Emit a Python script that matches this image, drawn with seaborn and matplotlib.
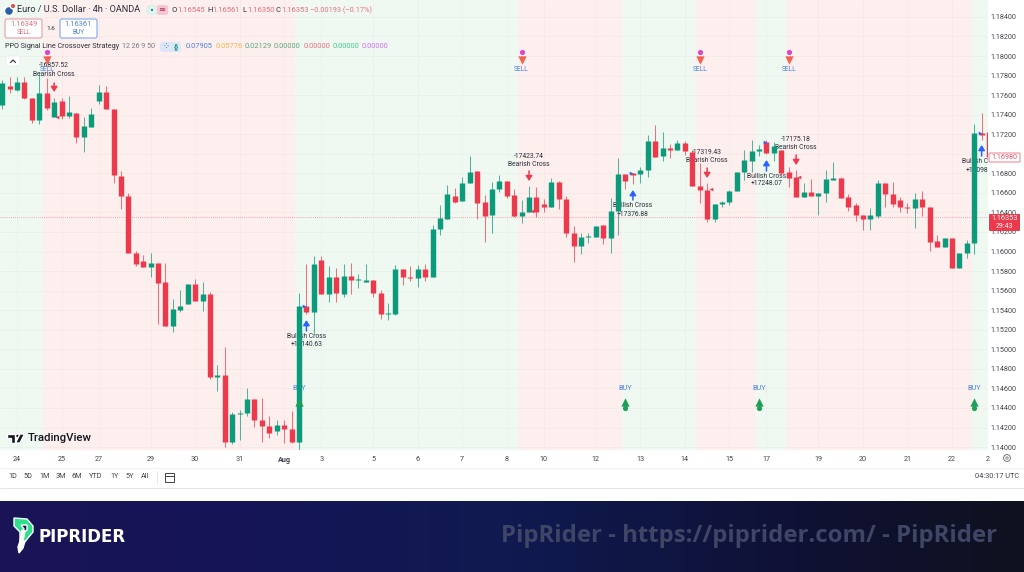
"""EUR/USD 4h candles with the PPO crossover strategy, TradingView style."""

import numpy as np
import pandas as pd
import matplotlib.pyplot as plt
import matplotlib.patches as mpatches
from matplotlib.colors import LinearSegmentedColormap
import seaborn as sns

# candles, oldest first
opens = [1.17499, 1.17693, 1.17652, 1.17734, 1.17570, 1.17345, 1.17622, 1.17376, 1.17540, 1.17386,
         1.17417, 1.17171, 1.17274, 1.17540, 1.17632, 1.17458, 1.16772, 1.16568, 1.15985, 1.15903,
         1.15842, 1.15883, 1.15688, 1.15238, 1.15402, 1.15463, 1.15668, 1.15494, 1.15566, 1.14716,
         1.14737, 1.14051, 1.14338, 1.14348, 1.14491, 1.14276, 1.14215, 1.14164, 1.14225, 1.14184,
         1.14051, 1.15443, 1.15381, 1.15913, 1.15566, 1.15739, 1.15566, 1.15749, 1.15709, 1.15688,
         1.15709, 1.15576, 1.15361, 1.15361, 1.15821, 1.15739, 1.15729, 1.15821, 1.15739, 1.16230,
         1.16333, 1.16568, 1.16517, 1.16701, 1.16824, 1.16507, 1.16373, 1.16640, 1.16721, 1.16578,
         1.16363, 1.16404, 1.16558, 1.16486, 1.16455, 1.16711, 1.16537, 1.16189, 1.16056, 1.16148,
         1.16148, 1.16271, 1.16138, 1.16414, 1.16793, 1.16803, 1.16793, 1.16834, 1.17131, 1.16977,
         1.17059, 1.17039, 1.17110, 1.17018, 1.16670, 1.16629, 1.16333, 1.16486, 1.16507, 1.16619,
         1.16813, 1.16926, 1.17028, 1.17120, 1.17008, 1.17039, 1.16813, 1.16762, 1.16558, 1.16609,
         1.16568, 1.16599, 1.16732, 1.16752, 1.16558, 1.16476, 1.16373, 1.16333, 1.16363, 1.16701,
         1.16588, 1.16527, 1.16455, 1.16445, 1.16537, 1.16455, 1.16108, 1.16046, 1.16138, 1.15831,
         1.15985, 1.16087, 1.17212, 1.17223]
highs = [1.17755, 1.17785, 1.17785, 1.17785, 1.17570, 1.17836, 1.17775, 1.17570, 1.17570, 1.17591,
         1.17417, 1.17376, 1.17468, 1.17703, 1.17693, 1.17458, 1.16824, 1.16599, 1.16005, 1.15964,
         1.15985, 1.15883, 1.15883, 1.15514, 1.15606, 1.15668, 1.15719, 1.15688, 1.15586, 1.14839,
         1.15023, 1.14358, 1.14379, 1.14604, 1.14491, 1.14501, 1.14317, 1.14276, 1.14276, 1.14368,
         1.15576, 1.15872, 1.15954, 1.15954, 1.15852, 1.15831, 1.15872, 1.15883, 1.15770, 1.15872,
         1.15709, 1.15606, 1.15473, 1.15862, 1.15821, 1.15852, 1.15862, 1.15872, 1.16271, 1.16476,
         1.16680, 1.16650, 1.16762, 1.16977, 1.16824, 1.16578, 1.16711, 1.16783, 1.16721, 1.16640,
         1.16527, 1.16670, 1.16660, 1.16537, 1.16752, 1.16721, 1.16568, 1.16261, 1.16189, 1.16189,
         1.16261, 1.16271, 1.16547, 1.16957, 1.16793, 1.16803, 1.16865, 1.17192, 1.17294, 1.17223,
         1.17100, 1.17141, 1.17131, 1.17039, 1.16905, 1.16701, 1.16486, 1.16517, 1.16629, 1.16813,
         1.17039, 1.17141, 1.17090, 1.17141, 1.17120, 1.17039, 1.16865, 1.16834, 1.16701, 1.16742,
         1.16599, 1.16834, 1.16916, 1.16762, 1.16588, 1.16496, 1.16373, 1.16445, 1.16732, 1.16701,
         1.16711, 1.16558, 1.16496, 1.16599, 1.16619, 1.16455, 1.16169, 1.16138, 1.16138, 1.15985,
         1.16118, 1.17304, 1.17417, 1.17223]
lows = [1.17458, 1.17622, 1.17642, 1.17560, 1.17315, 1.17304, 1.17448, 1.17376, 1.17356, 1.17366,
        1.17110, 1.17018, 1.17274, 1.17509, 1.17458, 1.16701, 1.16435, 1.15985, 1.15852, 1.15842,
        1.15739, 1.15258, 1.15238, 1.15177, 1.15381, 1.15463, 1.15494, 1.15391, 1.14696, 1.14573,
        1.14000, 1.14031, 1.14072, 1.14317, 1.14205, 1.14051, 1.14092, 1.14123, 1.14041, 1.14041,
        1.13970, 1.15361, 1.15166, 1.15566, 1.15484, 1.15484, 1.15535, 1.15566, 1.15627, 1.15688,
        1.15535, 1.15310, 1.15299, 1.15351, 1.15657, 1.15698, 1.15637, 1.15698, 1.15739, 1.16169,
        1.16333, 1.16496, 1.16517, 1.16701, 1.16333, 1.16097, 1.16189, 1.16609, 1.16547, 1.16353,
        1.16292, 1.16404, 1.16353, 1.16404, 1.16455, 1.16435, 1.16148, 1.15893, 1.15975, 1.16087,
        1.16148, 1.16077, 1.15985, 1.16169, 1.16640, 1.16691, 1.16701, 1.16762, 1.16967, 1.16926,
        1.16957, 1.17039, 1.16987, 1.16670, 1.16496, 1.16302, 1.16302, 1.16455, 1.16476, 1.16619,
        1.16732, 1.16813, 1.16977, 1.16998, 1.16926, 1.16783, 1.16660, 1.16558, 1.16558, 1.16568,
        1.16373, 1.16507, 1.16732, 1.16547, 1.16414, 1.16312, 1.16220, 1.16220, 1.16343, 1.16455,
        1.16455, 1.16404, 1.16394, 1.16241, 1.16363, 1.16005, 1.16046, 1.16046, 1.15831, 1.15831,
        1.15934, 1.15975, 1.17141, 1.16967]
closes = [1.17724, 1.17662, 1.17734, 1.17570, 1.17345, 1.17622, 1.17468, 1.17530, 1.17386, 1.17427,
          1.17171, 1.17284, 1.17407, 1.17632, 1.17458, 1.16783, 1.16568, 1.15985, 1.15872, 1.15842,
          1.15883, 1.15678, 1.15238, 1.15412, 1.15443, 1.15668, 1.15494, 1.15566, 1.14716, 1.14737,
          1.14051, 1.14338, 1.14348, 1.14491, 1.14276, 1.14215, 1.14143, 1.14225, 1.14184, 1.14051,
          1.15443, 1.15381, 1.15872, 1.15566, 1.15739, 1.15576, 1.15749, 1.15709, 1.15719, 1.15709,
          1.15576, 1.15361, 1.15371, 1.15821, 1.15739, 1.15729, 1.15821, 1.15739, 1.16230, 1.16343,
          1.16588, 1.16507, 1.16701, 1.16813, 1.16496, 1.16363, 1.16640, 1.16721, 1.16568, 1.16363,
          1.16404, 1.16558, 1.16404, 1.16455, 1.16711, 1.16537, 1.16189, 1.16056, 1.16148, 1.16159,
          1.16261, 1.16138, 1.16414, 1.16793, 1.16721, 1.16783, 1.16834, 1.17131, 1.16967, 1.17059,
          1.17039, 1.17110, 1.17028, 1.16670, 1.16629, 1.16333, 1.16486, 1.16507, 1.16619, 1.16813,
          1.16936, 1.17028, 1.17049, 1.17008, 1.17079, 1.16803, 1.16752, 1.16558, 1.16609, 1.16568,
          1.16599, 1.16742, 1.16752, 1.16547, 1.16455, 1.16373, 1.16333, 1.16373, 1.16701, 1.16588,
          1.16486, 1.16455, 1.16445, 1.16537, 1.16455, 1.16097, 1.16046, 1.16138, 1.15831, 1.15985,
          1.16087, 1.17212, 1.17192, 1.16967]

# date axis and price axis
date_pos = [2, 8, 13, 20, 26, 32, 38, 43, 50, 56, 62, 68, 73, 80, 86, 92, 98, 103, 110, 116, 122, 128, 132.8]
date_labels = ["24", "25", "27", "29", "30", "31", "Aug", "3", "5", "6", "7", "8", "10", "12", "13", "14",
               "15", "17", "19", "20", "21", "22", "2"]
price_ticks = [1.140, 1.142, 1.144, 1.146, 1.148, 1.150, 1.152, 1.154, 1.156, 1.158, 1.160, 1.162,
               1.164, 1.166, 1.168, 1.170, 1.172, 1.174, 1.176, 1.178, 1.180, 1.182, 1.184]
hidden_price = 1.170  # behind the 1.16980 tag
last_price = 1.16353

# strategy state: (start candle, end candle, state)
band_edges = [-1, 5.5, 39.5, 69.5, 83.5, 93.5, 101.6, 105.6, 130.7, 134]
band_state = ["bull", "bear", "bull", "bear", "bull", "bear", "bull", "bear", "bull"]

# strategy signals
sell_i = [6, 70, 94, 106]
sell_dot = [1.18041] * 4
sell_tri = [1.17959] * 4
sell_txt = [1.17857] * 4
buy_i = [40, 84, 102, 131]
buy_txt = [1.14604] * 4
buy_tri = [1.14461] * 4
buy_dot = [1.14399] * 4

cross_i = [7, 7, 41, 41, 71, 71, 85, 85, 95, 95, 103, 103, 107, 107, 132, 132]
cross_y = [1.17898, 1.17816, 1.15136, 1.15054, 1.16977, 1.16895, 1.16466, 1.16384,
           1.17018, 1.16936, 1.16772, 1.16691, 1.17151, 1.17069, 1.16916, 1.16834]
cross_txt = ["-16857.52", "Bearish Cross", "Bullish Cross", "+17140.63", "-17423.74", "Bearish Cross",
             "Bullish Cross", "+17376.88", "-17319.43", "Bearish Cross", "Bullish Cross", "+17248.07",
             "-17175.18", "Bearish Cross", "Bullish Cross", "+17098.35"]

up_i = [41, 85, 103, 132]
up_tail = [1.15187, 1.16527, 1.16824, 1.16977]
up_head = [1.15299, 1.16629, 1.16936, 1.17090]
down_i = [7, 71, 95, 107]
down_tail = [1.17724, 1.16824, 1.16854, 1.16987]
down_head = [1.17632, 1.16721, 1.16752, 1.16885]

long_i = [40.7, 84.7, 102.8, 131.8]
long_y = [1.15443, 1.16803, 1.17120, 1.17212]
short_i = [7.4, 71.4, 95.5, 107.4]
short_y = [1.17376, 1.16414, 1.16640, 1.16762]

# header values
ohlc_labels = ["O", "H", "L", "C"]
ohlc_values = ["1.16545", "1.16561", "1.16350", "1.16353"]
ppo_values = ["0.07905", "0.05776", "0.02129", "0.00000", "0.00000", "0.00000", "0.00000"]
ranges = ["1D", "5D", "1M", "3M", "6M", "YTD", "1Y", "5Y", "All"]

VERDE = "#0B9A7A"
VERMELHO = "#EC3A4C"
AZUL = "#2962FF"
TEXTO = "#2A2E39"
CINZA = "#5D606B"
ROSA = "#E8707F"

sns.set_theme(style="whitegrid", rc={"axes.edgecolor": "white", "grid.color": "#000000", "grid.alpha": 0.025,
                                     "grid.linewidth": 0.8, "axes.linewidth": 0})
plt.rcParams["font.family"] = ["Roboto", "DejaVu Sans"]

W, H = 1024, 572
fig = plt.figure(figsize=(W / 100, H / 100), dpi=100, facecolor="white")
ax = fig.add_axes([0, 1 - 450 / H, 988 / W, 450 / H], facecolor="white")

n = len(opens)
df = pd.DataFrame({"i": range(n), "open": opens, "high": highs, "low": lows, "close": closes})
df["lado"] = np.where(df["close"] >= df["open"], "alta", "baixa")
cores = {"alta": VERDE, "baixa": VERMELHO}

for a, b, estado in zip(band_edges[:-1], band_edges[1:], band_state):
    ax.axvspan(a, b, color="#F0F8F2" if estado == "bull" else "#FEEFEF", lw=0, zorder=0)

for x, y, t in zip(cross_i, cross_y, cross_txt):
    ax.text(x, y, t, fontsize=4.9, color=TEXTO, ha="center", va="center", clip_on=True, zorder=2)

pavios = df.melt(id_vars=["i", "lado"], value_vars=["high", "low"], value_name="preco")
corpos = df.melt(id_vars=["i", "lado"], value_vars=["open", "close"], value_name="preco")
sns.lineplot(data=pavios, x="i", y="preco", units="i", hue="lado", palette=cores, estimator=None, sort=False,
             legend=False, linewidth=0.75, alpha=0.7, solid_capstyle="butt", zorder=3, ax=ax)
sns.lineplot(data=corpos, x="i", y="preco", units="i", hue="lado", palette=cores, estimator=None, sort=False,
             legend=False, linewidth=3.9, solid_capstyle="butt", zorder=4, ax=ax)

ax.axhline(last_price, color=VERMELHO, lw=0.6, ls=(0, (1, 1.5)), alpha=0.55, zorder=1)

sns.scatterplot(x=sell_i, y=sell_dot, color="#D946C8", s=14, linewidth=0, zorder=6, ax=ax)
sns.scatterplot(x=sell_i, y=sell_tri, color="#F4624F", marker="v", s=36, linewidth=0, zorder=6, ax=ax)
sns.scatterplot(x=buy_i, y=buy_tri, color="#1E9E57", marker="^", s=36, linewidth=0, zorder=6, ax=ax)
sns.scatterplot(x=buy_i[1:], y=buy_dot[1:], color="#1E9E57", s=14, linewidth=0, zorder=6, ax=ax)
sns.scatterplot(x=long_i, y=long_y, color=AZUL, marker=">", s=7, linewidth=0, zorder=6, ax=ax)
sns.scatterplot(x=short_i, y=short_y, color=VERMELHO, marker="<", s=7, linewidth=0, zorder=6, ax=ax)

for x, y in zip(sell_i, sell_txt):
    ax.text(x, y, "SELL", fontsize=4.9, color="#4C82D8", ha="center", va="center", zorder=2)
for x, y in zip(buy_i, buy_txt):
    ax.text(x, y, "BUY", fontsize=5.2, color="#4C82D8", ha="center", va="center", zorder=2)

for x, a, b in zip(up_i, up_tail, up_head):
    ax.annotate("", xy=(x, b), xytext=(x, a), zorder=6,
                arrowprops=dict(arrowstyle="-|>,head_width=0.16,head_length=0.25", color=AZUL, lw=1.1,
                                shrinkA=0, shrinkB=0))
for x, a, b in zip(down_i, down_tail, down_head):
    ax.annotate("", xy=(x, b), xytext=(x, a), zorder=6,
                arrowprops=dict(arrowstyle="-|>,head_width=0.16,head_length=0.25", color=VERMELHO, lw=1.1,
                                shrinkA=0, shrinkB=0))

ax.set_xlim(-2.2 / 7.42, (988 - 2.2) / 7.42)
ax.set_ylim(1.13970, 1.18573)
ax.set_xlabel("")
ax.set_ylabel("")
ax.set_xticks(date_pos, date_labels)
ax.set_yticks(price_ticks, ["" if p == hidden_price else f"{p:.5f}" for p in price_ticks])
ax.yaxis.tick_right()
ax.tick_params(axis="x", length=0, pad=4, labelsize=5.2, labelcolor="#40434C")
ax.tick_params(axis="y", length=0, pad=1.5, labelsize=5.2, labelcolor="#40434C")
for rotulo_x in ax.get_xticklabels():
    if rotulo_x.get_text() == "Aug":
        rotulo_x.set_fontweight("bold")
ax.grid(True)

# interface layer, in image pixels
ui = fig.add_axes([0, 0, 1, 1], facecolor="none")
ui.set_axis_off()

gradiente = LinearSegmentedColormap.from_list("faixa", ["#1A1457", "#141556", "#101A50", "#0F1238", "#10111F"])
ui.imshow(np.linspace(0, 1, 512)[None, :], cmap=gradiente, extent=(0, W, 572, 501), aspect="auto", zorder=0)
ui.set_xlim(0, W)
ui.set_ylim(H, 0)


def caixa(x0, y0, x1, y1, borda="none", fundo="white", lw=0.8, raio=2):
    ui.add_patch(mpatches.FancyBboxPatch((x0, y0), x1 - x0, y1 - y0, boxstyle=f"round,pad=0,rounding_size={raio}",
                                         fc=fundo, ec=borda, lw=lw, zorder=2))


def rotulo(x, y, t, size=5.2, color=TEXTO, ha="center", **kw):
    return ui.text(x, y, t, fontsize=size, color=color, ha=ha, va="center", zorder=3, **kw)


# header
ui.add_patch(mpatches.Circle((9, 11), 4.5, fc="#2C5EA8", zorder=2))
ui.add_patch(mpatches.Circle((13, 6), 2.8, fc="#D9534F", zorder=2))
rotulo(17, 10, "Euro / U.S. Dollar · 4h · OANDA", size=6.6, ha="left")
caixa(146, 5, 158, 15, fundo="#DDF1EA", raio=4)
ui.add_patch(mpatches.Circle((152, 10), 2, fc="#0B9A7A", zorder=3))
caixa(157, 5, 168, 15, fundo="#F7C6D5", raio=2)
rotulo(162, 10, "≡", size=6, color="#B0305C")
for x, letra, valor in zip([172, 207, 242, 276], ohlc_labels, ohlc_values):
    rotulo(x, 10, letra, size=5.5, ha="left", color=TEXTO)
    rotulo(x + 5, 10, valor, size=5.5, ha="left", color=ROSA)
rotulo(310, 10, "−0.00193 (−0.17%)", size=5.3, ha="left", color=ROSA)

caixa(5, 19, 42, 38, borda="#EE9AA3")
rotulo(23.5, 24, "1.16349", size=5.4, color=ROSA)
rotulo(23.5, 32.5, "SELL", size=4.7, color=ROSA)
rotulo(51, 28, "1.6", size=4.6)
caixa(60, 19, 97, 38, borda="#7FA6EA")
rotulo(78.5, 24, "1.16361", size=5.4, color="#4C82D8")
rotulo(78.5, 32.5, "BUY", size=4.7, color="#4C82D8")

rotulo(5, 47, "PPO Signal Line Crossover Strategy", size=5.2, ha="left")
rotulo(122, 47, "12 26 9 50", size=5.1, ha="left", color="#787B86")
caixa(160, 42, 181, 52, fundo="#DDE6F8", raio=3)
rotulo(166, 47, "⁘", size=6, color="#2C5EA8")
rotulo(176, 47, "{}", size=5.5, color="#0B9A7A", fontweight="bold")
cores_ppo = ["#4C82D8", "#F2B84F", "#5BA87A", "#5BA87A", "#E8707F", "#3ECF8E", "#D070F0"]
for x, v, c in zip([186, 216, 245, 274, 304, 333, 362], ppo_values, cores_ppo):
    rotulo(x, 47, v, size=5.4, ha="left", color=c)

caixa(6, 56, 20, 66, borda="#EAEAEA", lw=0.5)
ui.plot([10.5, 13, 15.5], [62.5, 60, 62.5], color=TEXTO, lw=0.8, zorder=3)

# TradingView logo
ui.add_patch(mpatches.Polygon([(7, 434), (15, 434), (15, 443), (10.5, 443), (10.5, 438), (7, 438)], fc="#131722", zorder=3))
ui.add_patch(mpatches.Circle((17.6, 436), 2, fc="#131722", zorder=3))
ui.add_patch(mpatches.Polygon([(20, 434), (24.5, 434), (20, 443), (15.5, 443)], fc="#131722", zorder=3))
rotulo(28, 438, "TradingView", size=8.2, ha="left", color="#131722", fontweight="medium")

# price axis tags
caixa(989, 153, 1020, 162, borda="#EC6A78", lw=0.6, raio=1)
rotulo(1004.5, 157.5, "1.16980", size=5.2, color="#E0566A")
caixa(989, 214, 1020, 231, fundo=VERMELHO, raio=1)
rotulo(1004.5, 218.5, "1.16353", size=5.2, color="white")
rotulo(1004.5, 226, "29:43", size=5, color="white")

# lower toolbar
ui.add_patch(mpatches.Circle((1007, 458), 3.4, fc="none", ec=CINZA, lw=0.6, zorder=3))
ui.add_patch(mpatches.Circle((1007, 458), 1.2, fc="none", ec=CINZA, lw=0.5, zorder=3))
ui.plot([0, W], [468, 468], color="#EFEFEF", lw=0.6, zorder=1)
ui.plot([0, W], [488, 488], color="#E4E4E4", lw=0.7, zorder=1)
for x, t in zip([13, 28, 45, 61, 77, 96, 115, 130, 145], ranges):
    rotulo(x, 477, t, size=5.2, color="#40434C")
ui.plot([157, 157], [471, 484], color="#E4E4E4", lw=0.6, zorder=1)
ui.add_patch(mpatches.Rectangle((165, 473), 9, 8.5, fc="none", ec="#40434C", lw=0.7, zorder=3))
ui.plot([165, 174], [475.5, 475.5], color="#40434C", lw=0.7, zorder=3)
rotulo(997, 477, "04:30:17 UTC", size=5.3, color="#40434C")

# PipRider banner
ui.add_patch(mpatches.Polygon([(14, 518), (27, 519), (33, 526), (33, 532), (28, 538), (24, 543), (20, 541),
                               (20, 532), (14, 526)], fc="#2EE08C", zorder=3))
ui.add_patch(mpatches.Polygon([(21, 525), (27, 525), (27, 530), (23, 533), (24, 529)], fc="#1A1457", zorder=4))
ui.add_patch(mpatches.Polygon([(22, 530), (25, 531), (23, 541), (20, 541)], fc="white", zorder=4))
ui.add_patch(mpatches.Polygon([(20, 541), (25, 541), (23, 548), (19, 553), (18, 547)], fc="white", zorder=3))
rotulo(39, 536.5, "PIPRIDER", size=12, ha="left", color="white", family=["DejaVu Sans"], fontweight="bold")
rotulo(501, 536.5, "PipRider - https://piprider.com/ - PipRider", size=17.2, ha="left", color="#3F4565",
       family=["Open Sans", "DejaVu Sans"], fontweight="bold")

fig.savefig("out.png", dpi=100)
print("[OK] out.png")
